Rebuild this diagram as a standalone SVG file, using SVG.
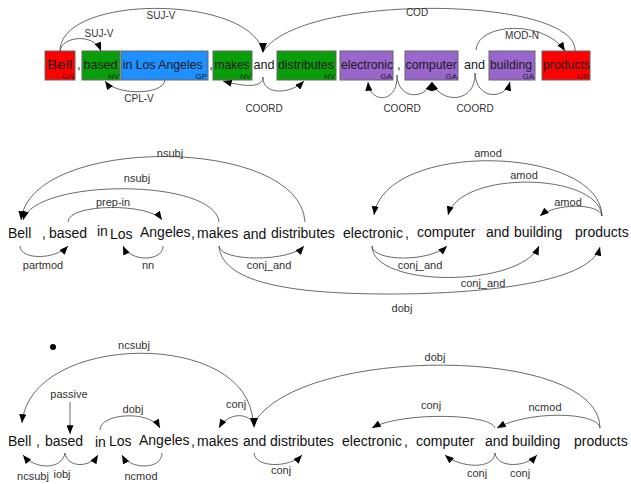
<svg xmlns="http://www.w3.org/2000/svg" width="631" height="484" viewBox="0 0 631 484">
<style>
text{font-family:"Liberation Sans",Arial,sans-serif}
.w{font-size:14px;fill:#111}
.bw{font-size:13px;fill:#1a1a1a}
.tag{font-size:8px;text-anchor:end}
.lbl{font-size:11px;fill:#333;text-anchor:middle}
.tl{font-size:10px;fill:#333;text-anchor:middle}
.e{fill:none;stroke:#444;stroke-width:0.8}
.m{marker-end:url(#ah)}
.box{stroke:#666;stroke-width:1}
.red{fill:#ff0000}.grn{fill:#0a9f0a}.blu{fill:#1e90ff}.pur{fill:#9966cc}
</style>
<defs>
<marker id="ah" viewBox="0 0 10 8" markerWidth="9" markerHeight="7" refX="10" refY="4" orient="auto" markerUnits="userSpaceOnUse"><path d="M0,0L10,4L0,8z" fill="#000"/></marker>
</defs>
<rect width="631" height="484" fill="#fff"/>

<!-- Top row nodes -->
<g id="t-bell"><rect class="box red" x="45" y="51" width="30" height="29"/><text class="bw" x="47.3" y="69" textLength="25" lengthAdjust="spacingAndGlyphs" fill="#4a0000">Bell</text><text class="tag" x="74" y="79" fill="#700">GN</text></g>
<g id="t-c1"><text class="bw" x="77" y="69">,</text></g>
<g id="t-based"><rect class="box grn" x="82" y="51" width="38" height="29"/><text class="bw" x="83.5" y="69" textLength="34" lengthAdjust="spacingAndGlyphs">based</text><text class="tag" x="119" y="79" fill="#030">NV</text></g>
<g id="t-inla"><rect class="box blu" x="121" y="51" width="87" height="29"/><text class="bw" x="122.7" y="69" textLength="80" lengthAdjust="spacingAndGlyphs">in Los Angeles</text><text class="tag" x="207" y="79" fill="#023">GP</text></g>
<g id="t-c2"><text class="bw" x="209.2" y="69">,</text></g>
<g id="t-makes"><rect class="box grn" x="213" y="51" width="39" height="29"/><text class="bw" x="214.5" y="69" textLength="35" lengthAdjust="spacingAndGlyphs">makes</text><text class="tag" x="251" y="79" fill="#030">NV</text></g>
<g id="t-and1"><text class="bw" x="253.5" y="69" textLength="21" lengthAdjust="spacingAndGlyphs">and</text></g>
<g id="t-distributes"><rect class="box grn" x="277" y="51" width="59" height="29"/><text class="bw" x="278" y="69" textLength="56" lengthAdjust="spacingAndGlyphs">distributes</text><text class="tag" x="335" y="79" fill="#030">NV</text></g>
<g id="t-electronic"><rect class="box pur" x="340" y="51" width="53" height="29"/><text class="bw" x="341" y="69" textLength="52" lengthAdjust="spacingAndGlyphs">electronic</text><text class="tag" x="392" y="79" fill="#213">GA</text></g>
<g id="t-c3"><text class="bw" x="397" y="69">,</text></g>
<g id="t-computer"><rect class="box pur" x="405" y="51" width="53" height="29"/><text class="bw" x="405.5" y="69" textLength="51.5" lengthAdjust="spacingAndGlyphs">computer</text><text class="tag" x="457" y="79" fill="#213">GA</text></g>
<g id="t-and2"><text class="bw" x="464" y="69" textLength="21" lengthAdjust="spacingAndGlyphs">and</text></g>
<g id="t-building"><rect class="box pur" x="489" y="51" width="46" height="29"/><text class="bw" x="490" y="69" textLength="42" lengthAdjust="spacingAndGlyphs">building</text><text class="tag" x="534" y="79" fill="#213">GA</text></g>
<g id="t-products"><rect class="box red" x="542" y="51" width="48" height="29"/><text class="bw" x="543" y="69" textLength="47" lengthAdjust="spacingAndGlyphs" fill="#4a0000">products</text><text class="tag" x="589" y="79" fill="#700">GN</text></g>

<!-- Middle row nodes -->
<g id="m-bell"><text class="w" x="8" y="238">Bell</text></g>
<g id="m-c1"><text class="w" x="42" y="238">,</text></g>
<g id="m-based"><text class="w" x="49" y="238">based</text></g>
<g id="m-in"><text class="w" x="97" y="236">in</text></g>
<g id="m-los"><text class="w" x="110" y="239">Los</text></g>
<g id="m-angeles"><text class="w" x="140" y="236.5">Angeles</text></g>
<g id="m-c2"><text class="w" x="191" y="238">,</text></g>
<g id="m-makes"><text class="w" x="197" y="238">makes</text></g>
<g id="m-and1"><text class="w" x="243" y="239">and</text></g>
<g id="m-distributes"><text class="w" x="271" y="238">distributes</text></g>
<g id="m-electronic"><text class="w" x="343" y="237.5">electronic</text></g>
<g id="m-c3"><text class="w" x="405" y="237.5">,</text></g>
<g id="m-computer"><text class="w" x="417" y="236.5">computer</text></g>
<g id="m-and2"><text class="w" x="486" y="236.5">and</text></g>
<g id="m-building"><text class="w" x="514" y="236.5">building</text></g>
<g id="m-products"><text class="w" x="575" y="236.5">products</text></g>

<!-- Bottom row nodes -->
<g id="b-bell"><text class="w" x="8" y="446">Bell</text></g>
<g id="b-c1"><text class="w" x="36" y="446">,</text></g>
<g id="b-based"><text class="w" x="45" y="446">based</text></g>
<g id="b-in"><text class="w" x="95" y="447">in</text></g>
<g id="b-los"><text class="w" x="109" y="446">Los</text></g>
<g id="b-angeles"><text class="w" x="139" y="445">Angeles</text></g>
<g id="b-c2"><text class="w" x="191" y="446">,</text></g>
<g id="b-makes"><text class="w" x="197" y="446">makes</text></g>
<g id="b-and1"><text class="w" x="243" y="446">and</text></g>
<g id="b-distributes"><text class="w" x="270" y="446">distributes</text></g>
<g id="b-electronic"><text class="w" x="342" y="446">electronic</text></g>
<g id="b-c3"><text class="w" x="404" y="446">,</text></g>
<g id="b-computer"><text class="w" x="416" y="446">computer</text></g>
<g id="b-and2"><text class="w" x="485" y="446">and</text></g>
<g id="b-building"><text class="w" x="512" y="446">building</text></g>
<g id="b-products"><text class="w" x="574" y="446">products</text></g>
<g id="bullet"><circle cx="53" cy="347" r="3" fill="#000"/></g>

<g id="connectors">
<!-- top -->
<path class="e m" d="M60,51 C62,36 94,33 101,51"/>
<path class="e" d="M60,51 C60,-6 250,-6 263,52"/>
<path class="e" d="M575,51 C578,-4 300,-8 263,52"/>
<polygon points="259,43 267,43 263,53" fill="#000"/>
<path class="e m" d="M476,50 C478,22 545,20 565,51"/>
<path class="e m" d="M165,80 C163,96 115,95 105,81"/>
<path class="e m" d="M263,77 C263,88 245,87 223,81"/>
<path class="e m" d="M263,77 C262,95 290,95 304,81"/>
<path class="e m" d="M397,75 C398,104 370,104 368,82"/>
<path class="e m" d="M397,75 C398,100 425,100 432,82"/>
<path class="e m" d="M475,73 C476,104 440,104 432,82"/>
<path class="e m" d="M475,73 C476,100 505,100 510,82"/>
<text class="tl" x="99" y="37">SUJ-V</text>
<text class="tl" x="161" y="19">SUJ-V</text>
<text class="tl" x="417" y="15.5">COD</text>
<text class="tl" x="522" y="39">MOD-N</text>
<text class="tl" x="139" y="101.5">CPL-V</text>
<text class="tl" x="264" y="112">COORD</text>
<text class="tl" x="402" y="112">COORD</text>
<text class="tl" x="475" y="112">COORD</text>

<!-- middle -->
<path class="e m" d="M305,222 C300,135 30,135 21,220"/>
<path class="e m" d="M219,222 C215,178 35,178 23,220"/>
<path class="e m" d="M68,222 C68,203 150,203 162,220"/>
<path class="e m" d="M20,246 C20,260 55,260 68,246"/>
<path class="e m" d="M163,246 C163,262 130,262 123,246"/>
<path class="e m" d="M219,246 C220,262 290,262 304,246"/>
<path class="e m" d="M219,246 C222,285 300,294 390,294 C470,294 590,285 600,247"/>
<path class="e m" d="M372,246 C373,262 430,262 447,246"/>
<path class="e m" d="M372,246 C372,288 520,288 539,246"/>
<path class="e m" d="M602,216 C600,145 385,140 374,215"/>
<path class="e m" d="M602,216 C598,172 460,170 448,215"/>
<path class="e m" d="M602,216 C600,203 555,203 540,216"/>
<text class="lbl" x="170" y="157">nsubj</text>
<text class="lbl" x="137" y="181.5">nsubj</text>
<text class="lbl" x="113" y="205.5">prep-in</text>
<text class="lbl" x="43" y="269">partmod</text>
<text class="lbl" x="148" y="269">nn</text>
<text class="lbl" x="269" y="268.5">conj_and</text>
<text class="lbl" x="402" y="312">dobj</text>
<text class="lbl" x="420" y="268.5">conj_and</text>
<text class="lbl" x="483" y="286.5">conj_and</text>
<text class="lbl" x="488" y="157">amod</text>
<text class="lbl" x="524" y="179">amod</text>
<text class="lbl" x="568" y="206">amod</text>

<!-- bottom -->
<path class="e m" d="M253,423 C250,328 30,332 22,423"/>
<path class="e m" d="M70,402 L70,434"/>
<path class="e m" d="M100,430 C100,413 150,410 160,428"/>
<path class="e m" d="M253,423 C248,413 228,412 219,428"/>
<path class="e" d="M600,428 C600,345 300,345 254,423"/>
<polygon points="250,418 258,418 254,428" fill="#000"/>
<path class="e m" d="M65,453 C62,470 35,470 23,455"/>
<path class="e m" d="M65,453 C67,468 90,468 98,455"/>
<path class="e m" d="M162,453 C162,470 130,470 122,455"/>
<path class="e m" d="M254,453 C255,468 290,468 302,455"/>
<path class="e m" d="M495,428 C490,413 400,412 372,428"/>
<path class="e m" d="M600,428 C598,412 530,410 497,428"/>
<path class="e m" d="M495,453 C494,470 460,468 445,455"/>
<path class="e m" d="M495,453 C497,468 525,468 537,455"/>
<text class="lbl" x="134" y="349">ncsubj</text>
<text class="lbl" x="69" y="398">passive</text>
<text class="lbl" x="133" y="413">dobj</text>
<text class="lbl" x="236" y="408">conj</text>
<text class="lbl" x="435" y="361">dobj</text>
<text class="lbl" x="33" y="480">ncsubj</text>
<text class="lbl" x="62" y="478">iobj</text>
<text class="lbl" x="141" y="480">ncmod</text>
<text class="lbl" x="281" y="474">conj</text>
<text class="lbl" x="431" y="409">conj</text>
<text class="lbl" x="545" y="411">ncmod</text>
<text class="lbl" x="477" y="477">conj</text>
<text class="lbl" x="520" y="477">conj</text>
</g>
</svg>
